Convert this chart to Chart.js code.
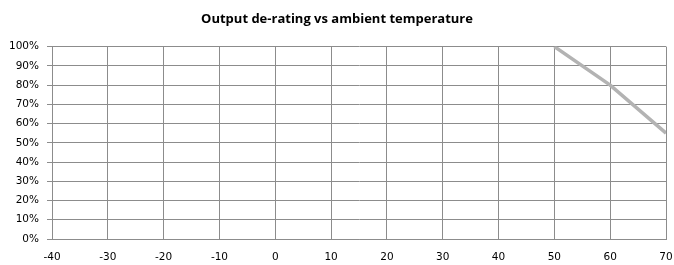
<!DOCTYPE html>
<html>
<head>
<meta charset="utf-8">
<script src="https://cdn.jsdelivr.net/npm/chart.js@4/dist/chart.umd.min.js"></script>
<style>
  html, body { margin: 0; padding: 0; background: #fff; }
  #wrap { width: 674px; height: 265px; }
</style>
</head>
<body>
<div id="wrap"><canvas id="myChart" width="674" height="265"></canvas></div>
<script>
// data
const temps = [50, 60, 70]
const output = [1.0, 0.8, 0.55]
const xTicks = [-40, -30, -20, -10, 0, 10, 20, 30, 40, 50, 60, 70]
const titleText = 'Output de-rating vs ambient temperature'

const points = temps.map((t, i) => ({ x: t, y: output[i] }))

const ctx = document.getElementById('myChart').getContext('2d')
const myChart = new Chart(ctx, {
    type: 'scatter',
    data: {
        datasets: [{
            data: points,
            showLine: true,
            borderColor: '#b3b3b3',
            borderWidth: 3.5,
            pointRadius: 0,
            pointHoverRadius: 0
        }]
    },
    options: {
        responsive: false,
        animation: false,
        layout: { padding: { left: 0, right: 0, top: 0, bottom: 0 } },
        plugins: {
            legend: { display: false },
            tooltip: { enabled: false },
            title: {
                display: true,
                text: titleText,
                color: '#000',
                font: { family: 'Open Sans', size: 13, weight: 'bold' },
                padding: { top: 11, bottom: 20 }
            }
        },
        scales: {
            x: {
                type: 'linear',
                min: xTicks[0],
                max: xTicks[xTicks.length - 1],
                afterBuildTicks: axis => { axis.ticks = xTicks.map(v => ({ value: v })) },
                afterFit: axis => {
                    axis.height = 26
                    axis.paddingRight = 8
                },
                grid: { color: '#8c8c8c', lineWidth: 1, drawTicks: false },
                border: { color: '#8c8c8c' },
                ticks: {
                    color: '#000',
                    padding: 12,
                    maxRotation: 0,
                    font: { family: 'DejaVu Sans', size: 10.5 }
                }
            },
            y: {
                min: 0,
                max: 1,
                afterFit: axis => { axis.width = 52 },
                grid: { color: '#8c8c8c', lineWidth: 1, tickLength: 5 },
                border: { color: '#8c8c8c' },
                ticks: {
                    stepSize: 0.1,
                    color: '#000',
                    padding: 8,
                    font: { family: 'DejaVu Sans', size: 10.5 },
                    callback: v => Math.round(v * 100) + '%'
                }
            }
        }
    }
})
</script>
</body>
</html>
